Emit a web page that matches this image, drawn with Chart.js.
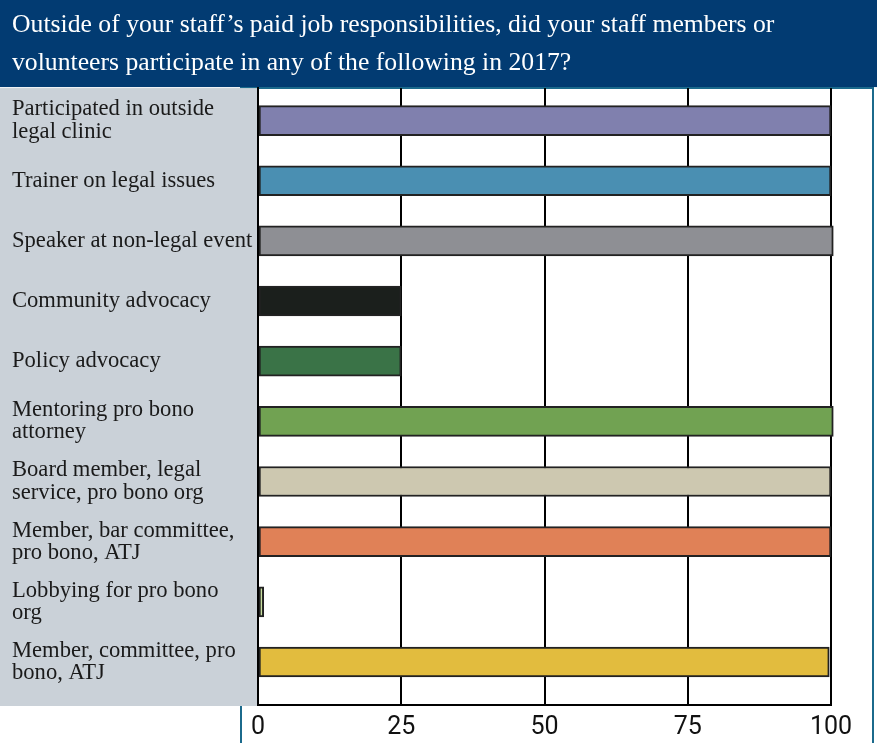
<!DOCTYPE html>
<html><head><meta charset="utf-8">
<script src="https://cdn.jsdelivr.net/npm/chart.js@4/dist/chart.umd.min.js"></script>
<style>html,body{margin:0;padding:0;background:#fff;overflow:hidden}#wrap{width:877px;height:743px;position:relative}</style>
</head><body><div id="wrap"><canvas id="c"></canvas></div>
<script>
const titleLines = [
  "Outside of your staff\u2019s paid job responsibilities, did your staff members or",
  "volunteers participate in any of the following in 2017?"
];
const categories = [
  ["Participated in outside", "legal clinic"],
  "Trainer on legal issues",
  "Speaker at non-legal event",
  "Community advocacy",
  "Policy advocacy",
  ["Mentoring pro bono", "attorney"],
  ["Board member, legal", "service, pro bono org"],
  ["Member, bar committee,", "pro bono, ATJ"],
  ["Lobbying for pro bono", "org"],
  ["Member, committee, pro", "bono, ATJ"]
];
const values = [100, 100, 100.4, 25, 25, 100.4, 100, 100, 1, 99.7];
const barColors = ["#8080ae", "#4a8fb2", "#8e8f94", "#1b1f1c", "#3a7347", "#71a252", "#cdc8b0", "#e08157", "#c8dea0", "#e2bc3e"];
const xTicks = [0, 25, 50, 75, 100];

const backdrop = {
  id: 'backdrop',
  beforeDraw(chart) {
    const {ctx, chartArea: a, width, height} = chart;
    ctx.save();
    ctx.fillStyle = '#ffffff';
    ctx.fillRect(0, 0, width, height);
    ctx.fillStyle = '#023b72';
    ctx.fillRect(0, 0, width, a.top - 1);
    ctx.strokeStyle = '#1b6a8c';
    ctx.lineWidth = 2;
    ctx.beginPath();
    ctx.moveTo(a.left - 17, height);
    ctx.lineTo(a.left - 17, a.top);
    ctx.lineTo(a.right + 42, a.top);
    ctx.lineTo(a.right + 42, height);
    ctx.stroke();
    ctx.fillStyle = '#cad1d8';
    ctx.fillRect(0, a.top, a.left, a.bottom - a.top + 1);
    ctx.restore();
  }
};

new Chart(document.getElementById('c'), {
  type: 'bar',
  data: {
    datasets: [{
      data: values.map((v, i) => ({x: v, y: i})),
      backgroundColor: barColors,
      borderColor: '#222222',
      borderWidth: 2,
      borderSkipped: false,
      barThickness: 30,
      clip: false
    }]
  },
  options: {
    indexAxis: 'y',
    responsive: true,
    maintainAspectRatio: false,
    animation: false,
    devicePixelRatio: 1,
    layout: {padding: {left: 12, right: 46, top: 0, bottom: 0}},
    plugins: {
      legend: {display: false},
      tooltip: {enabled: false},
      title: {
        display: true,
        text: titleLines,
        align: 'start',
        color: '#ffffff',
        font: {family: '"Liberation Serif", "DejaVu Serif", serif', size: 25.7, weight: 'normal', lineHeight: 1.48},
        padding: {top: 6, bottom: 6}
      }
    },
    scales: {
      x: {
        type: 'linear',
        min: 0,
        max: 100,
        afterBuildTicks: s => { s.ticks = xTicks.map(v => ({value: v})); },
        afterFit: s => { s.height = 38; },
        grid: {color: '#000000', lineWidth: 2, drawTicks: false},
        border: {display: true, color: '#000000', width: 2},
        ticks: {color: '#111111', padding: 8, maxRotation: 0, font: {family: 'Roboto, "Noto Sans", sans-serif', size: 25}}
      },
      y: {
        type: 'linear',
        reverse: true,
        offset: false,
        min: -0.54,
        max: 9.715,
        afterBuildTicks: s => { s.ticks = categories.map((c, i) => ({value: i})); },
        afterFit: s => { s.width = 246; },
        grid: {display: false},
        border: {display: true, color: '#000000', width: 2},
        ticks: {
          color: '#1a1a1a',
          crossAlign: 'far',
          autoSkip: false,
          callback: v => categories[v],
          font: {family: '"Liberation Serif", "DejaVu Serif", serif', size: 22.6, lineHeight: 0.98}
        }
      }
    }
  },
  plugins: [backdrop]
});
</script>
</body></html>
